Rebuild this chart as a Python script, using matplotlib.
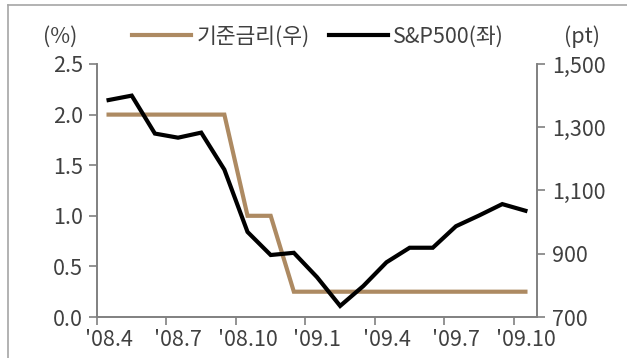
import matplotlib.pyplot as plt
from matplotlib.lines import Line2D
from matplotlib.ticker import FuncFormatter

plt.rcParams['font.family'] = ['Noto Sans CJK KR', 'DejaVu Sans']
plt.rcParams['font.weight'] = 'light'

# 월별 데이터 ('08.4 ~ '09.10)
months = ["'08.4", "'08.5", "'08.6", "'08.7", "'08.8", "'08.9", "'08.10", "'08.11", "'08.12",
          "'09.1", "'09.2", "'09.3", "'09.4", "'09.5", "'09.6", "'09.7", "'09.8", "'09.9", "'09.10"]
rate = [2.0, 2.0, 2.0, 2.0, 2.0, 2.0, 1.0, 1.0, 0.25,
        0.25, 0.25, 0.25, 0.25, 0.25, 0.25, 0.25, 0.25, 0.25, 0.25]
sp500 = [1386, 1400, 1280, 1267, 1283, 1166, 969, 896, 903,
         826, 735, 798, 873, 919, 919, 987, 1021, 1057, 1036]
tick_labels = ["'08.4", "'08.7", "'08.10", "'09.1", "'09.4", "'09.7", "'09.10"]

brown = '#AD8A62'
gray = '#808080'
txt = '#404040'
fs = 15.5

fig = plt.figure(figsize=(6.27, 3.58), dpi=100)
ax = fig.add_axes([97/627, 1-317/358, 440/627, 253/358])
ax2 = ax.twinx()

x = list(range(len(months)))
l1, = ax.plot(x, rate, color=brown, lw=3, solid_joinstyle='miter')
l2, = ax2.plot(x, sp500, color='black', lw=3, solid_joinstyle='miter')

# 라벨은 3개월마다 항목 가운데, 눈금선은 항목 경계에
ax.set_xlim(-0.5, len(months) - 0.5)
ax.set_xticks([3*i for i in range(len(tick_labels))])
ax.set_xticklabels(tick_labels)
ax.set_xticks([-0.5 + 3*i for i in range(len(tick_labels))], minor=True)

ax.set_ylim(0, 2.5)
ax.set_yticks([0, 0.5, 1.0, 1.5, 2.0, 2.5])
ax.yaxis.set_major_formatter(FuncFormatter(lambda v, p: f'{v:.1f}'))
ax2.set_ylim(700, 1500)
ax2.set_yticks(range(700, 1501, 200))
ax2.yaxis.set_major_formatter(FuncFormatter(lambda v, p: f'{int(v):,}'))

for a in (ax, ax2):
    a.spines['top'].set_visible(False)
    for s in ('left', 'right', 'bottom'):
        a.spines[s].set_color(gray)
        a.spines[s].set_linewidth(1.2)
    a.tick_params(colors=gray, labelcolor=txt, labelsize=fs, length=6, width=1.2)
ax.tick_params(axis='x', which='major', length=0, pad=9)
ax.tick_params(axis='x', which='minor', length=6, width=1.2, colors=gray)
ax.tick_params(axis='y', pad=4)
ax2.tick_params(axis='y', pad=5)

fig.text(60/627, 1-37/358, '(%)', ha='center', va='center', fontsize=fs, color=txt)
fig.text(582/627, 1-37/358, '(pt)', ha='center', va='center', fontsize=fs, color=txt)

fig.legend([l1, l2], ['기준금리(우)', 'S&P500(좌)'], loc='center', bbox_to_anchor=(318/627, 1-37/358),
           ncol=2, frameon=False, fontsize=fs, handlelength=2.75, handletextpad=0.25,
           columnspacing=0.9, labelcolor=txt)

# 바깥 테두리
fig.add_artist(Line2D([8/627, 1], [1-5/358, 1-5/358], color='#a6a6a6', lw=1.2))
fig.add_artist(Line2D([8/627, 8/627], [0, 1-5/358], color='#a6a6a6', lw=1.2))

fig.savefig('out.png', dpi=100)
